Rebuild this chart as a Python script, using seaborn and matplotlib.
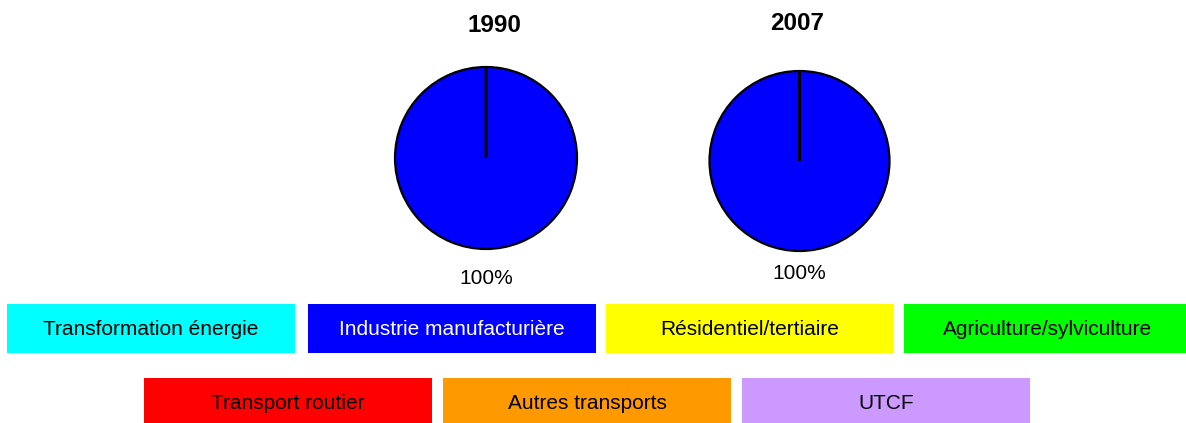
import matplotlib
matplotlib.use("Agg")
import matplotlib.pyplot as plt
from matplotlib.patches import Rectangle
import seaborn as sns

# ---- data ----
categories = ["Transformation énergie", "Industrie manufacturière", "Résidentiel/tertiaire",
              "Agriculture/sylviculture", "Transport routier", "Autres transports", "UTCF"]
colors = ["#00FFFF", "#0000FF", "#FFFF00", "#00FF00", "#FF0000", "#FF9900", "#CC99FF"]
text_colors = ["black", "white", "black", "black", "black", "black", "black"]
years = ["1990", "2007"]
values_1990 = [0, 100, 0, 0, 0, 0, 0]
values_2007 = [0, 100, 0, 0, 0, 0, 0]

sns.set_theme(style="white")
plt.rcParams['font.family'] = ['Liberation Sans', 'DejaVu Sans']
plt.rcParams['text.color'] = 'black'

W, H = 1186, 423
fig = plt.figure(figsize=(W / 100, H / 100), dpi=100)
fig.patch.set_facecolor("white")

# background axes in pixel coordinates for legend boxes
bg = fig.add_axes([0, 0, 1, 1])
bg.set_xlim(0, W)
bg.set_ylim(H, 0)
bg.axis("off")

# legend layout (left x, top y) per category
box_pos = [(7, 304), (308, 304), (606, 304), (904, 304),
           (144, 378), (443, 378), (742, 378)]
box_w, box_h = 288, 49
for cat, col, tc, (x0, y0) in zip(categories, colors, text_colors, box_pos):
    bg.add_patch(Rectangle((x0, y0), box_w, box_h, facecolor=col, edgecolor="none"))
    bg.text(x0 + box_w / 2, y0 + box_h / 2 + 1, cat, ha="center", va="center",
            fontsize=15, color=tc)

# pies: (center x, center y, radius, pct distance, title x, title y)
pie_layout = [(486, 158, 91, 1.32, 494, 25), (799.5, 161, 90, 1.25, 797, 23)]
for year, vals, (cx, cy, r, pd, tx, ty) in zip(years, [values_1990, values_2007], pie_layout):
    half = 1.25 * r
    ax = fig.add_axes([(cx - half) / W, (H - cy - half) / H, 2 * half / W, 2 * half / H])
    ax.pie(vals, colors=colors, startangle=90, counterclock=False,
           wedgeprops=dict(edgecolor="black", linewidth=1.6),
           autopct=lambda p: f"{p:.0f}%" if p > 0 else "", pctdistance=pd,
           textprops=dict(fontsize=15, color="black"))
    ax.set_xlim(-1.25, 1.25)
    ax.set_ylim(-1.25, 1.25)
    ax.set_aspect("equal")
    ax.axis("off")
    bg.text(tx, ty, year, ha="center", va="center", fontsize=17.5, fontweight="bold",
            color="black")

fig.savefig("out.png", dpi=100, facecolor="white")
